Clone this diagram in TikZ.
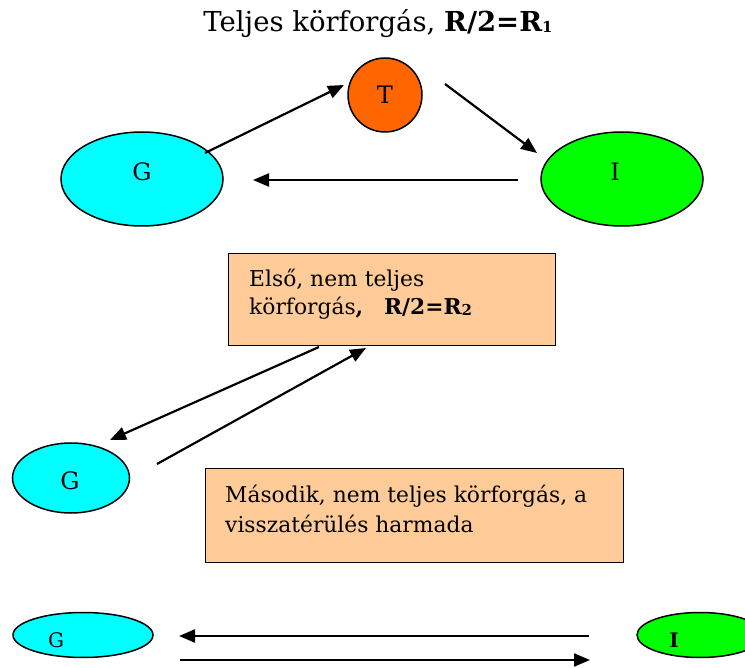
\documentclass[tikz,border=0pt]{standalone}
\usepackage{fontspec}
\setmainfont{DejaVu Serif}
\usetikzlibrary{arrows.meta,shapes.geometric}
\definecolor{cyanfill}{HTML}{00FFFF}
\definecolor{greenfill}{HTML}{00FF00}
\definecolor{orangefill}{HTML}{FF6600}
\definecolor{boxfill}{HTML}{FFCC99}
\newcommand{\lowsub}[1]{\raisebox{-0.5pt}{\fontsize{15}{15}\selectfont #1}}
\begin{document}
\begin{tikzpicture}[x=1pt,y=-1pt,
  blob/.style={ellipse,draw=black,line width=1.5pt,inner sep=0pt},
  notebox/.style={draw=black,line width=1.4pt,fill=boxfill},
  flow/.style={line width=2.2pt,-{Triangle[length=16pt,width=13pt]}},
  lbl/.style={font=\fontsize{24}{28}\selectfont,inner sep=0pt},
  small/.style={font=\fontsize{20}{22}\selectfont,inner sep=0pt},
  boxtext/.style={font=\fontsize{21.8}{28}\selectfont,anchor=base west,inner sep=0pt}]
\useasboundingbox (0,0) rectangle (745,668);

% title
\node[font=\fontsize{27.5}{32}\selectfont,anchor=base,inner sep=0pt] (title) at (378,32) {Teljes körforgás, \textbf{R/2=R\lowsub{1}}};

% full cycle
\node[blob,fill=orangefill,circle,minimum size=74pt] (T) at (385,95) {};
\node[lbl] at (T) {T};
\node[blob,fill=cyanfill,minimum width=162pt,minimum height=94pt] (G1) at (142,179) {};
\node[lbl] at (142,172) {G};
\node[blob,fill=greenfill,minimum width=162pt,minimum height=94pt] (I1) at (622,179) {};
\node[lbl] at (615,172) {I};

\coordinate (a1s) at (205,153); \coordinate (a1e) at (344,85);
\coordinate (a2s) at (445,84);  \coordinate (a2e) at (537,153);
\coordinate (a3s) at (518,180); \coordinate (a3e) at (253,180);
\draw[flow] (a1s) -- (a1e);
\draw[flow] (a2s) -- (a2e);
\draw[flow] (a3s) -- (a3e);

% first partial cycle
\node[notebox,minimum width=327pt,minimum height=92pt,anchor=north west] (B1) at (228,253) {};
\node[boxtext] (B1a) at (249,287) {Első, nem teljes};
\node[boxtext] (B1b) at (249,315) {körforgás\textbf{,}\ \ \ \textbf{R/2=R\lowsub{2}}};
\node[blob,fill=cyanfill,minimum width=117pt,minimum height=70pt] (G2) at (71,478) {};
\node[lbl] at (70,481) {G};

\coordinate (b1s) at (319,347); \coordinate (b1e) at (110,440);
\coordinate (b2s) at (157,464); \coordinate (b2e) at (366,348);
\draw[flow] (b1s) -- (b1e);
\draw[flow] (b2s) -- (b2e);

% second partial cycle
\node[notebox,minimum width=418pt,minimum height=94pt,anchor=north west] (B2) at (205,468) {};
\node[boxtext] (B2a) at (225,503) {Második, nem teljes körforgás, a};
\node[boxtext] (B2b) at (225,532) {visszatérülés harmada};

\node[blob,fill=cyanfill,minimum width=140pt,minimum height=45pt] (G3) at (83,635) {};
\node[small] at (56,640) {G};
\node[blob,fill=greenfill,minimum width=126pt,minimum height=45pt] (I3) at (700,635) {};
\node[small,font=\fontsize{20}{22}\selectfont\bfseries] at (674,640) {I};

\coordinate (c1s) at (589,636); \coordinate (c1e) at (179,636);
\coordinate (c2s) at (180,660); \coordinate (c2e) at (590,660);
\draw[flow] (c1s) -- (c1e);
\draw[flow] (c2s) -- (c2e);
\end{tikzpicture}
\end{document}
